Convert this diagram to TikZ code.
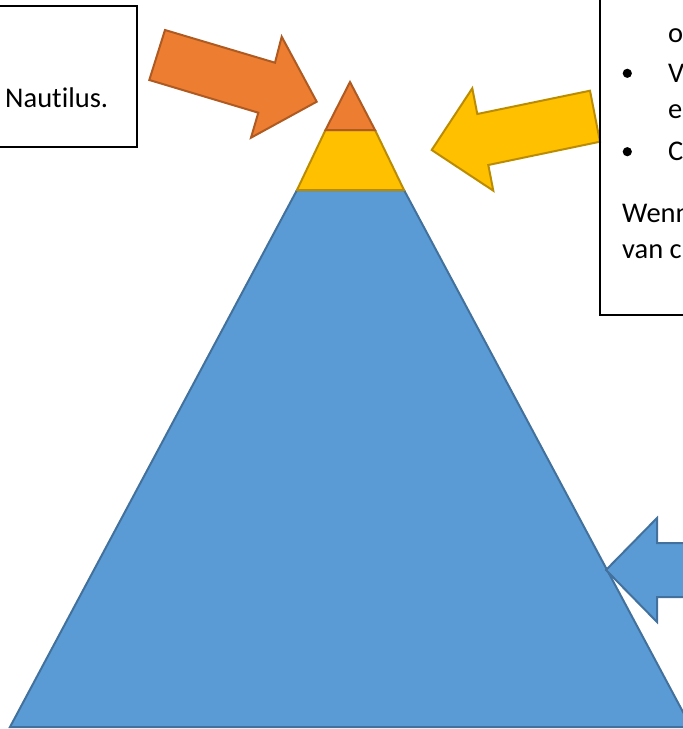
\documentclass[tikz,border=0pt]{standalone}
\usepackage{fontspec}
\setmainfont[Ligatures=NoCommon]{Carlito}
\definecolor{orgfill}{HTML}{ED7D31}
\definecolor{orgline}{HTML}{AE5A21}
\definecolor{yelfill}{HTML}{FFC000}
\definecolor{yelline}{HTML}{BC8C00}
\definecolor{blufill}{HTML}{5B9BD5}
\definecolor{bluline}{HTML}{41719C}
\tikzset{
  orgshape/.style={fill=orgfill,draw=orgline,line width=2pt,line join=miter},
  yelshape/.style={fill=yelfill,draw=yelline,line width=2pt,line join=miter},
  blushape/.style={fill=blufill,draw=bluline,line width=2pt,line join=miter},
  textbox/.style={draw=black,line width=1.5pt},
  txt/.style={inner sep=0pt,anchor=base west,font=\fontsize{28.5pt}{34pt}\selectfont}
}
\begin{document}
\begin{tikzpicture}[x=1pt,y=-1pt]
\useasboundingbox (0,0) rectangle (683,729);
\clip (0,0) rectangle (683,729);
% pyramid
\draw[blushape] (297,190) -- (404,190) -- (691,727) -- (10,727) -- cycle;
\draw[yelshape] (325.5,130) -- (375,130) -- (404,190) -- (297,190) -- cycle;
\draw[orgshape] (350,82) -- (375,130) -- (325.5,130) -- cycle;
% orange arrow
\draw[orgshape] (165,30) -- (275,62.7) -- (281.7,36.7) -- (316.7,101.7) -- (251,137.7) -- (258.3,112.7) -- (149.3,80) -- cycle;
% yellow arrow
\draw[yelshape] (431.7,150) -- (472.3,88.3) -- (477.3,114) -- (590,90.7) -- (600,141.7) -- (488.3,165) -- (493.3,190.7) -- cycle;
% blue arrow
\draw[blushape] (606,570) -- (657,518) -- (657,543) -- (700,543) -- (700,597) -- (657,597) -- (657,622) -- cycle;
% left box
\draw[textbox] (-10,6) rectangle (137,147);
\node[txt] (naut) at (5,107) {Nautilus.};
% right box
\draw[textbox] (700,-10) -- (600,-10) -- (600,315) -- (700,315);
\node[txt] (l1) at (668,42) {o};
\fill (627.3,73.3) circle (4.6);
\node[txt] (l2) at (668,82) {V};
\node[txt] (l3) at (668,118) {e};
\fill (627.3,151.7) circle (4.6);
\node[txt] (l4) at (668,160) {C};
\node[txt] (l5) at (622,222) {Wenn};
\node[txt] (l6) at (622,258) {van c};
\end{tikzpicture}
\end{document}
